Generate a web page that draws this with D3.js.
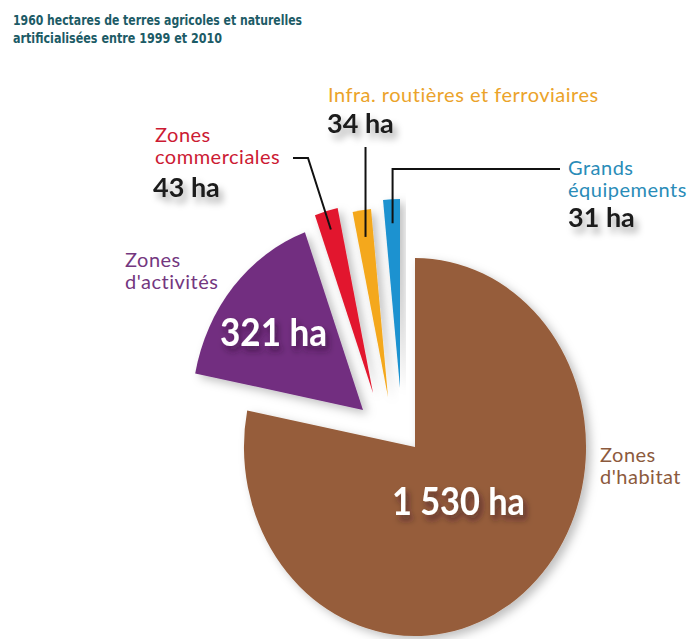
<!DOCTYPE html>
<html><head><meta charset="utf-8">
<script src="https://cdn.jsdelivr.net/npm/d3@7"></script>
<style>
html,body{margin:0;padding:0;background:#fff;}
svg{display:block;}
</style></head>
<body>
<svg id="chart" width="688" height="639"></svg>
<script>
// ---- data ----
const titleLines = ["1960 hectares de terres agricoles et naturelles", "artificialisées entre 1999 et 2010"];
const categories = ["Zones d'habitat", "Zones d'activités", "Zones commerciales", "Infra. routières et ferroviaires", "Grands équipements"];
const values = [1530, 321, 43, 34, 31];
const valueLabels = ["1 530 ha", "321 ha", "43 ha", "34 ha", "31 ha"];
const nameLines = [["Zones", "d'habitat"], ["Zones", "d'activités"], ["Zones", "commerciales"], ["Infra. routières et ferroviaires"], ["Grands", "équipements"]];

// ---- style ----
const sliceColors = ["#965d3a", "#722f80", "#e2182e", "#f4a81c", "#1b92d0"];
const textColors = ["#8c5a3d", "#74377f", "#cc1a33", "#eba32a", "#2a8cb8"];
const cx = 415, cy = 447, R = 189, sx = 0.905;
const explode = [[0, 0], [-52, -37], [-42, -54], [-27, -50], [-15, -59]];

const svg = d3.select("#chart");
const defs = svg.append("defs");
const f1 = defs.append("filter").attr("id", "pieShadow").attr("x", "-30%").attr("y", "-30%").attr("width", "160%").attr("height", "160%");
f1.append("feDropShadow").attr("dx", 5).attr("dy", 4).attr("stdDeviation", 5).attr("flood-color", "#000").attr("flood-opacity", 0.25);
const f2 = defs.append("filter").attr("id", "txtShadow").attr("x", "-30%").attr("y", "-30%").attr("width", "160%").attr("height", "180%");
f2.append("feDropShadow").attr("dx", 4).attr("dy", 6).attr("stdDeviation", 3.5).attr("flood-color", "#000").attr("flood-opacity", 0.35);
const f3 = defs.append("filter").attr("id", "inShadow").attr("x", "-30%").attr("y", "-30%").attr("width", "160%").attr("height", "180%");
f3.append("feDropShadow").attr("dx", 3).attr("dy", 5).attr("stdDeviation", 3).attr("flood-color", "#2a0f2a").attr("flood-opacity", 0.55);

// title
const titleWidths = [289, 209];
svg.append("g").selectAll("text").data(titleLines).join("text")
  .attr("x", 13).attr("y", (d, i) => 25 + i * 18)
  .attr("font-family", "'DejaVu Sans Condensed', 'Liberation Sans', sans-serif")
  .attr("font-weight", "bold").attr("font-size", 14).attr("fill", "#1c5b66")
  .attr("textLength", (d, i) => titleWidths[i]).attr("lengthAdjust", "spacingAndGlyphs")
  .text(d => d);

// pie
const pie = d3.pie().sort(null).value(d => d).startAngle(0).endAngle(2 * Math.PI);
const arcs = pie(values);
const arc = d3.arc().innerRadius(0).outerRadius(R);

const slices = svg.append("g").selectAll("g").data(arcs).join("g")
  .attr("transform", (d, i) => `translate(${cx + explode[i][0]},${cy + explode[i][1]}) scale(${sx},1)`);
slices.append("path").attr("d", arc).attr("fill", (d, i) => sliceColors[i])
  .attr("filter", "url(#pieShadow)");

// anchor point inside slice (screen coords)
function anchor(i, r) {
  const a = (arcs[i].startAngle + arcs[i].endAngle) / 2;
  return [cx + explode[i][0] + sx * r * Math.sin(a), cy + explode[i][1] - r * Math.cos(a)];
}

// leader lines
const lines = svg.append("g").attr("fill", "none").attr("stroke", "#111").attr("stroke-width", 2);
{
  const a = anchor(2, 170);
  lines.append("path").attr("d", `M${a[0]},${a[1]} L308,158 L293,158`);
  const b = anchor(3, 162);
  lines.append("path").attr("d", `M${b[0]},${b[1]} L${b[0]},147`);
  const c = anchor(4, 165);
  lines.append("path").attr("d", `M${c[0]},${c[1]} L${c[0]},169 L560,169`);
}

const labelFont = "Lato, 'Open Sans', sans-serif";
// name labels: [x, first baseline]
const namePos = [[600, 462], [125, 267], [155, 142], [328, 102], [568, 175]];
nameLines.forEach((lns, i) => {
  svg.append("g").selectAll("text").data(lns).join("text")
    .attr("x", namePos[i][0]).attr("y", (d, j) => namePos[i][1] + j * 22)
    .attr("font-family", labelFont).attr("font-size", 20).attr("letter-spacing", 0.5)
    .attr("fill", textColors[i])
    .text(d => d);
});

// value labels
const valPos = [[392, 515, 38, "#fff", "inShadow", 133], [220, 346, 38, "#fff", "inShadow", 107], [153, 197, 27, "#1a1a1a", "txtShadow", 0], [327, 133, 27, "#1a1a1a", "txtShadow", 0], [568, 227, 27, "#1a1a1a", "txtShadow", 0]];
svg.append("g").selectAll("text").data(valueLabels).join("text")
  .attr("x", (d, i) => valPos[i][0]).attr("y", (d, i) => valPos[i][1])
  .attr("font-family", labelFont).attr("font-weight", "bold")
  .attr("font-size", (d, i) => valPos[i][2]).attr("fill", (d, i) => valPos[i][3])
  .attr("filter", (d, i) => `url(#${valPos[i][4]})`)
  .each(function (d, i) {
    if (valPos[i][5]) d3.select(this).attr("textLength", valPos[i][5]).attr("lengthAdjust", "spacingAndGlyphs");
  })
  .text(d => d);
</script>
</body></html>
